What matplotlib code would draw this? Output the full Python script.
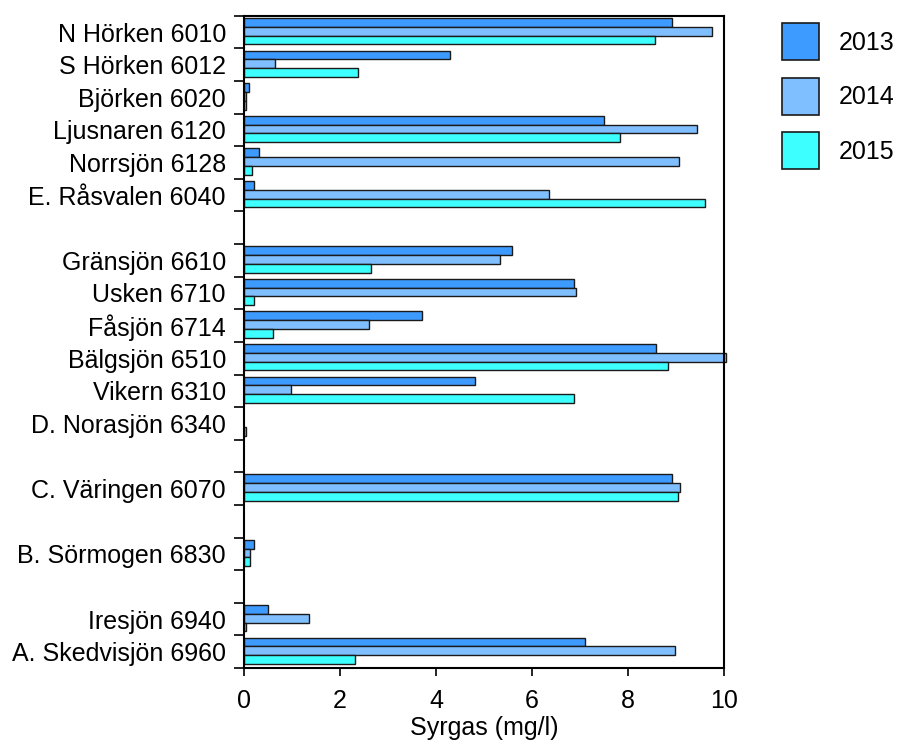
import matplotlib
matplotlib.use("Agg")
import matplotlib.pyplot as plt
from matplotlib.patches import Patch
import numpy as np

plt.rcParams['font.family'] = ['Liberation Sans', 'DejaVu Sans']

# sjöar uppifrån och ned, tom sträng = tom rad
lakes = ['N Hörken 6010', 'S Hörken 6012', 'Björken 6020', 'Ljusnaren 6120',
         'Norrsjön 6128', 'E. Råsvalen 6040', '',
         'Gränsjön 6610', 'Usken 6710', 'Fåsjön 6714', 'Bälgsjön 6510',
         'Vikern 6310', 'D. Norasjön 6340', '',
         'C. Väringen 6070', '',
         'B. Sörmogen 6830', '',
         'Iresjön 6940', 'A. Skedvisjön 6960']

years = ['2013', '2014', '2015']

v2013 = [8.91, 4.29, 0.10, 7.50, 0.31, 0.21, 0,
         5.59, 6.88, 3.71, 8.58, 4.81, 0.0, 0,
         8.92, 0, 0.20, 0, 0.50, 7.10]
v2014 = [9.75, 0.65, 0.05, 9.43, 9.06, 6.36, 0,
         5.33, 6.92, 2.61, 10.05, 0.98, 0.0, 0,
         9.08, 0, 0.12, 0, 1.35, 8.98]
v2015 = [8.57, 2.38, 0.05, 7.84, 0.17, 9.60, 0,
         2.64, 0.20, 0.60, 8.83, 6.88, 0.05, 0,
         9.04, 0, 0.12, 0, 0.05, 2.31]

colors = ['#3d9bff', '#80bfff', '#3dffff']
fs = 18

fig = plt.figure(figsize=(8.97, 7.42), dpi=100)
ax = fig.add_axes([0.272, 0.0997, 0.535, 0.879])

n = len(lakes)
pos = np.arange(n)
h = 0.27
offs = [0.2, 0.47, 0.74]
for vals, off, c, yr in zip([v2013, v2014, v2015], offs, colors, years):
    for p, v, lab in zip(pos, vals, lakes):
        if lab == '' or v <= 0:
            continue
        ax.barh(p + off, v, height=h, color=c, edgecolor='#1a1a1a',
                linewidth=1.0, clip_on=False)

ax.set_xlim(0, 10)
ax.set_ylim(n, 0)
ax.set_xticks(np.arange(0, 11, 2))
ax.set_yticks(np.arange(n + 1))
ax.set_yticklabels([])
ax.set_yticks(pos + 0.5, minor=True)
ax.set_yticklabels(lakes, minor=True)
ax.tick_params(axis='y', which='major', direction='out', length=7.5, width=1.2)
ax.tick_params(axis='y', which='minor', length=0, pad=13, labelsize=fs)
ax.tick_params(axis='x', direction='out', length=6, width=1.2, labelsize=fs, pad=9)
for s in ax.spines.values():
    s.set_linewidth(1.5)
ax.set_xlabel('Syrgas (mg/l)', fontsize=fs, labelpad=2)

handles = [Patch(facecolor=c, edgecolor='#1a1a1a', linewidth=1.2) for c in colors]
fig.legend(handles, years, loc='upper left', bbox_to_anchor=(0.8665, 0.9756),
           frameon=False, fontsize=fs, handlelength=1.46, handleheight=1.89,
           labelspacing=0.71, handletextpad=0.8, borderaxespad=0, borderpad=0.2)

fig.savefig('out.png', dpi=100)
